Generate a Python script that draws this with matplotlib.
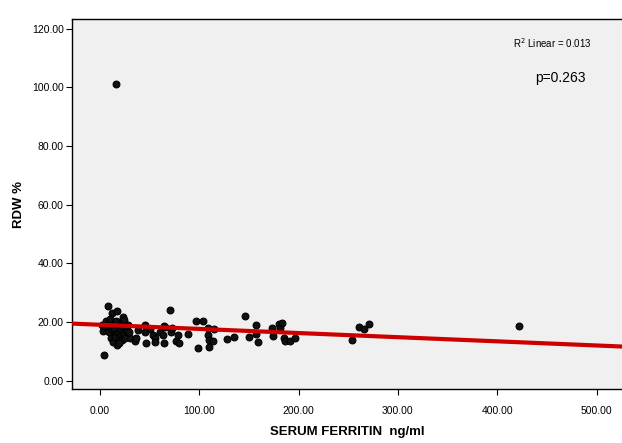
import matplotlib
matplotlib.use("Agg")
import matplotlib.pyplot as plt
import numpy as np

plt.rcParams['font.family'] = ['Liberation Sans', 'DejaVu Sans']

# Data
ferritin = [2.5, 3.5, 4.5, 6.0, 8.0, 7.0, 9.0, 10.0, 11.0, 12.0, 12.5, 13.5, 14.0, 15.0,
            15.5, 16.5, 17.0, 17.5, 18.0, 18.5, 19.0, 20.0, 20.5, 21.0, 22.0, 22.5, 23.5,
            24.5, 24.0, 25.5, 26.0, 27.0, 28.0, 30.5, 29.0, 10.5, 5.0, 16.0, 19.5, 14.5,
            35.4, 36.4, 38.7, 45.5, 46.5, 45.5, 50.0, 53.8, 55.5, 56.0, 60.6,
            63.3, 64.6, 64.6, 65.6, 70.3, 71.6, 72.3, 76.7, 79.0, 80.0, 89.0, 96.8, 98.3,
            103.5, 109.2, 109.2, 110.2, 110.0, 114.2, 114.9, 127.6, 135.5, 146.4, 149.8,
            156.8, 156.8, 159.2, 172.9, 174.6, 180.0, 181.3, 183.6, 185.3, 186.3, 191.3, 196.7,
            254.0, 261.0, 266.0, 270.8, 422.0]
rdw = [19.0, 16.9, 8.8, 20.5, 25.5, 18.0, 16.5, 19.5, 14.5, 23.0, 17.5, 13.3, 19.5, 16.0,
       15.0, 101.0, 12.2, 23.8, 18.5, 16.5, 14.0, 17.5, 20.0, 15.5, 18.8, 13.8, 21.8,
       20.7, 16.0, 14.5, 18.5, 17.0, 19.0, 14.5, 16.5, 21.0, 18.5, 20.5, 13.0, 17.8,
       13.5, 14.7, 17.3, 19.0, 12.7, 16.7, 17.5, 15.6, 14.5, 13.3, 16.7,
       15.6, 12.7, 18.8, 18.4, 24.0, 16.7, 17.9, 13.4, 15.6, 12.8, 15.9, 20.3, 11.3,
       20.3, 15.6, 17.9, 13.9, 11.6, 13.6, 17.5, 14.3, 15.0, 22.0, 15.0,
       19.0, 15.9, 13.2, 18.0, 15.2, 19.2, 18.1, 19.6, 14.7, 13.5, 13.6, 14.7,
       13.8, 18.4, 17.5, 19.2, 18.5]

fit_intercept = 19.07
fit_slope = -0.01413
r2_text = "R$^2$ Linear = 0.013"
p_text = "p=0.263"

xticks = [0, 100, 200, 300, 400, 500]
yticks = [0, 20, 40, 60, 80, 100, 120]

fig = plt.figure(figsize=(6.22, 4.43), dpi=100)
fig.patch.set_facecolor('white')
ax = fig.add_axes([72/622, 1-389/443, 1-72/622, (389-19)/443])
ax.set_facecolor('#F0F0F0')

xlim = (-28, 525.5)
ylim = (-2.83, 123.3)
ax.set_xlim(*xlim)
ax.set_ylim(*ylim)

ax.scatter(ferritin, rdw, s=24, facecolor='#111111', edgecolor='black', linewidths=0.8, zorder=3)

xl = np.array(xlim)
ax.plot(xl, fit_intercept + fit_slope * xl, color='#CC0000', lw=3.0, zorder=4, solid_capstyle='butt')

ax.set_xticks(xticks)
ax.set_xticklabels([f"{v:.2f}" for v in xticks])
ax.set_yticks(yticks)
ax.set_yticklabels([f"{v:.2f}" for v in yticks])
ax.tick_params(axis='both', direction='out', length=4, width=0.8, labelsize=7.5, colors='black', pad=2)
ax.tick_params(axis='x', pad=8.5)
for s in ['left', 'bottom', 'top']:
    ax.spines[s].set_color('black')
    ax.spines[s].set_linewidth(1.0)
ax.spines['right'].set_visible(False)

ax.set_xlabel("SERUM FERRITIN  ng/ml", fontsize=9.5, fontweight='bold', labelpad=7)
ax.set_ylabel("RDW %", fontsize=9.5, fontweight='bold', labelpad=5)

ax.text(552/622, 1-43/443, r2_text, transform=fig.transFigure, fontsize=7, ha='center', va='center')
ax.text(560/622, 1-78/443, p_text, transform=fig.transFigure, fontsize=10, ha='center', va='center')

fig.savefig("out.png", dpi=100)
